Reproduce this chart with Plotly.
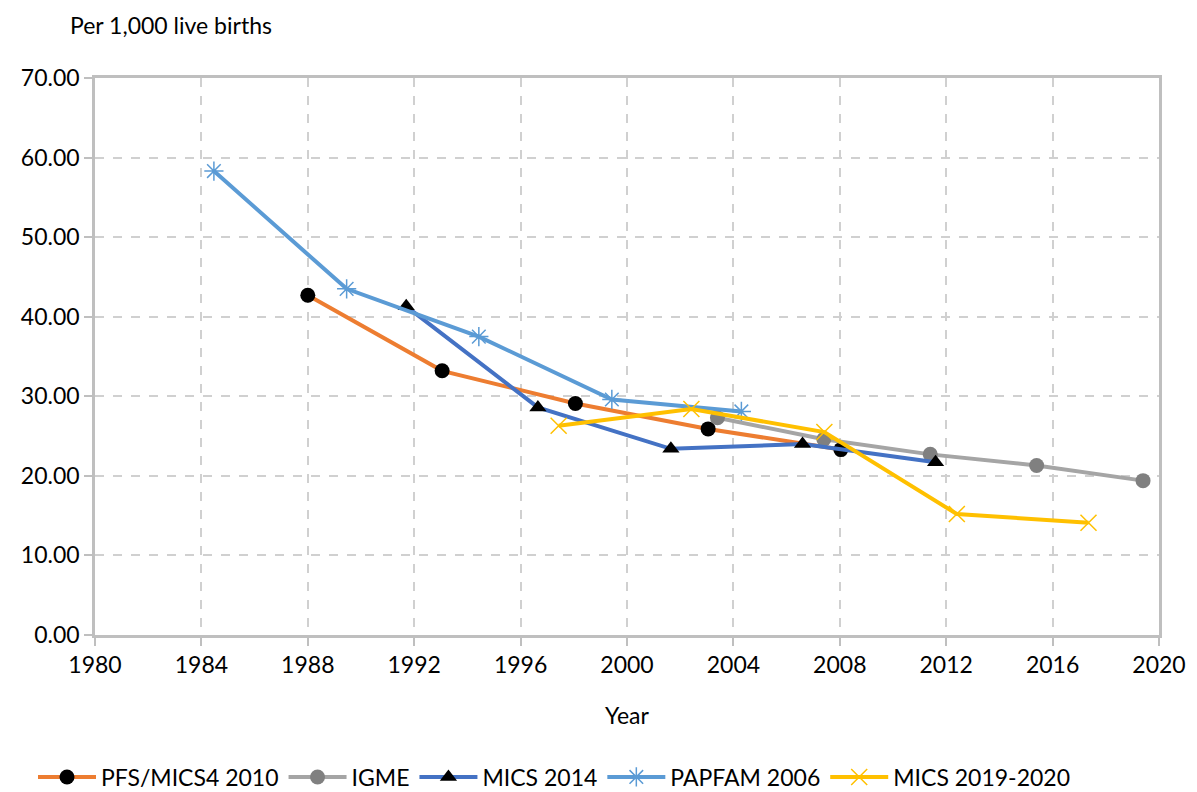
import plotly.graph_objects as go

# Data
pfs_years = [1988.0, 1993.05, 1998.06, 2003.05, 2008.04]
pfs_vals = [42.7, 33.2, 29.1, 25.9, 23.3]

igme_years = [2003.4, 2007.4, 2011.4, 2015.4, 2019.4]
igme_vals = [27.3, 24.6, 22.7, 21.3, 19.4]

mics14_years = [1991.7, 1996.65, 2001.65, 2006.6, 2011.6]
mics14_vals = [41.3, 28.6, 23.4, 24.0, 21.7]

papfam_years = [1984.47, 1989.46, 1994.43, 1999.43, 2004.3]
papfam_vals = [58.3, 43.5, 37.5, 29.6, 28.1]

mics19_years = [1997.43, 2002.42, 2007.42, 2012.4, 2017.35]
mics19_vals = [26.3, 28.4, 25.5, 15.2, 14.1]

x_ticks = [1980, 1984, 1988, 1992, 1996, 2000, 2004, 2008, 2012, 2016, 2020]
y_ticks = [0, 10, 20, 30, 40, 50, 60, 70]

FONT = "Lato, Liberation Sans, sans-serif"
FS = 23

fig = go.Figure()
fig.add_trace(go.Scatter(
    x=pfs_years, y=pfs_vals, name="PFS/MICS4 2010", mode="lines+markers",
    line=dict(color="#ED7D31", width=4),
    marker=dict(symbol="circle", size=15, color="#000000")))
fig.add_trace(go.Scatter(
    x=igme_years, y=igme_vals, name="IGME", mode="lines+markers",
    line=dict(color="#A5A5A5", width=4),
    marker=dict(symbol="circle", size=15, color="#808080")))
fig.add_trace(go.Scatter(
    x=mics14_years, y=mics14_vals, name="MICS 2014", mode="lines+markers",
    line=dict(color="#4472C4", width=4),
    marker=dict(symbol="triangle-up", size=15, color="#000000")))
fig.add_trace(go.Scatter(
    x=papfam_years, y=papfam_vals, name="PAPFAM 2006", mode="lines+markers",
    line=dict(color="#5B9BD5", width=4),
    marker=dict(symbol="asterisk-open", size=16, color="#5B9BD5",
                line=dict(color="#5B9BD5", width=1.5))))
fig.add_trace(go.Scatter(
    x=mics19_years, y=mics19_vals, name="MICS 2019-2020", mode="lines+markers",
    line=dict(color="#FFC000", width=4),
    marker=dict(symbol="x-thin-open", size=16, color="#FFC000",
                line=dict(color="#FFC000", width=1.5))))

# page body has an 8px default margin; margins compensate so the plot box
# lands at x 95..1159, y 78..635 in the screenshot
PL, PR, PT, PB = 87, 46, 70, 165
plot_h = 792 - PT - PB
plot_w = 1197 - PL - PR

fig.update_layout(
    width=1197, height=792,
    margin=dict(l=PL, r=PR, t=PT, b=PB, autoexpand=False),
    paper_bgcolor="white", plot_bgcolor="white",
    font=dict(family=FONT, size=FS, color="#000000"),
    showlegend=True,
    legend=dict(orientation="h", x=(25 - PL) / plot_w, xanchor="left",
                y=-(769 - (792 - PB)) / plot_h, yanchor="middle",
                font=dict(size=FS), itemwidth=58, tracegroupgap=0,
                bgcolor="rgba(0,0,0,0)"),
    annotations=[dict(text="Per 1,000 live births", xref="paper", yref="paper",
                      x=(60 - PL) / plot_w, y=1.0 + (PT - 1) / plot_h, xanchor="left",
                      yanchor="top", showarrow=False, font=dict(size=FS))],
)

fig.update_xaxes(
    range=[1980, 2020], tickvals=x_ticks, ticktext=[str(v) for v in x_ticks],
    showgrid=True, gridcolor="#D0D0D0", griddash="dash", gridwidth=1.5,
    showline=True, linecolor="#BFBFBF", linewidth=2.5, mirror=True,
    ticks="outside", ticklen=8, tickcolor="#BFBFBF", tickwidth=2,
    zeroline=False, title=dict(text="Year", standoff=31, font=dict(size=FS)),
)
fig.update_yaxes(
    range=[0, 70], tickvals=y_ticks, ticktext=[f"{v:.2f}" for v in y_ticks],
    showgrid=True, gridcolor="#D0D0D0", griddash="dash", gridwidth=1.5,
    showline=True, linecolor="#BFBFBF", linewidth=2.5, mirror=True,
    ticks="outside", ticklen=8, tickcolor="#BFBFBF", tickwidth=2,
    zeroline=False,
)

fig.write_html("out.html")
